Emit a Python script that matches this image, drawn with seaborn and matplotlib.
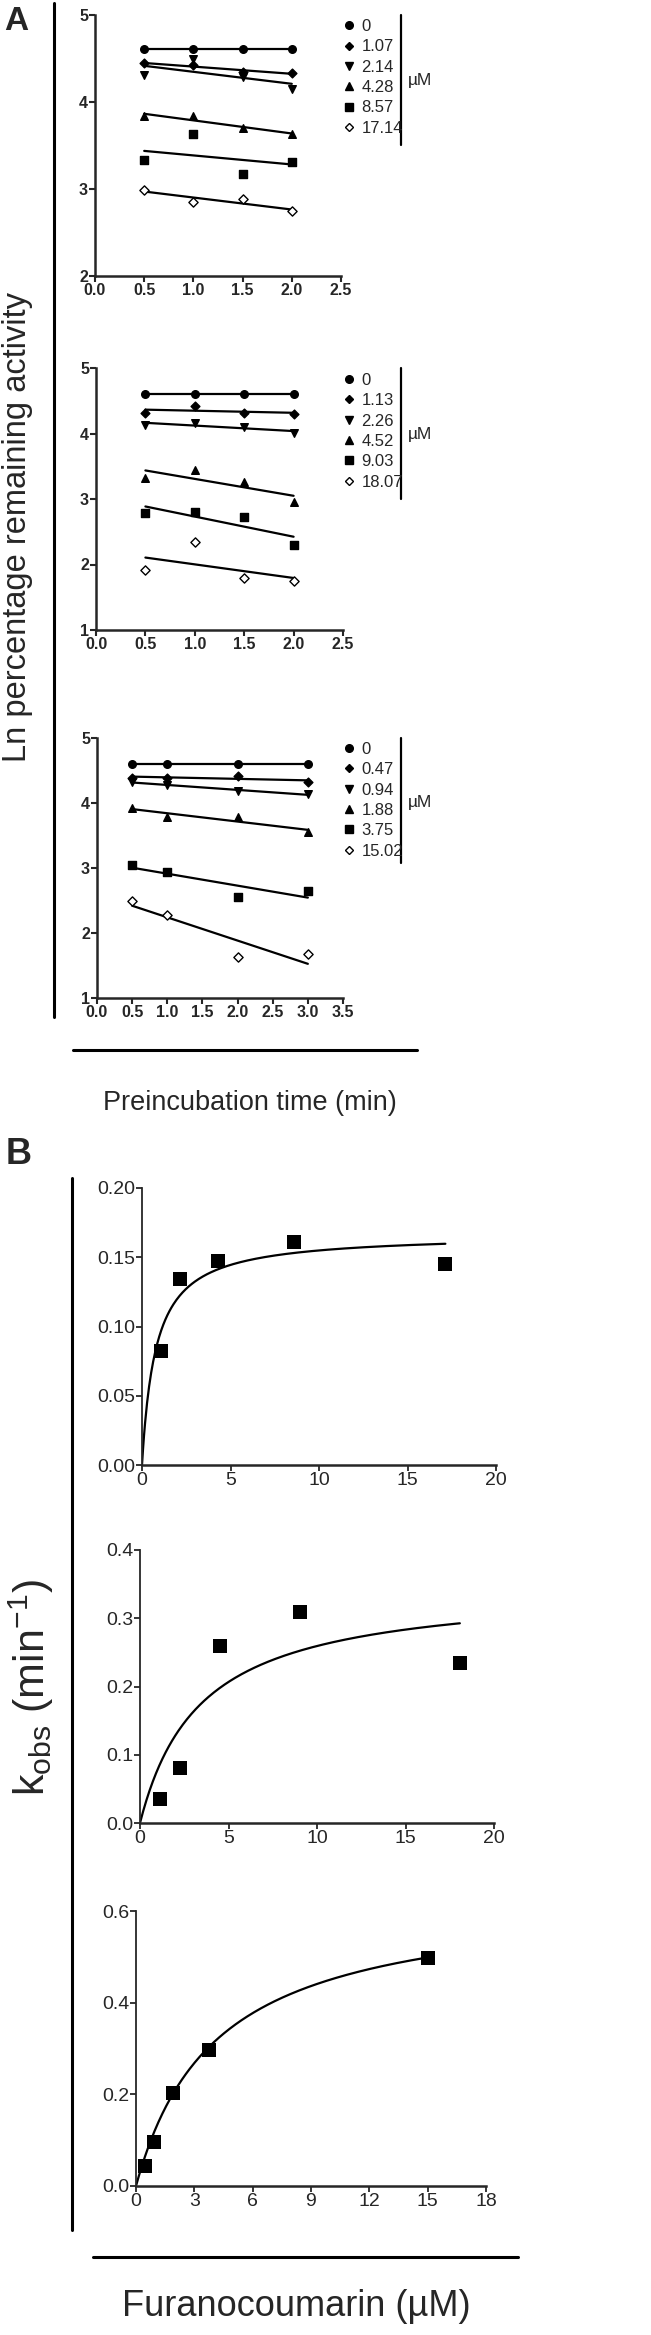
import numpy as np
import pandas as pd
import matplotlib
matplotlib.use('Agg')
import matplotlib.pyplot as plt
from matplotlib.lines import Line2D
import seaborn as sns

# ---- panel A: ln % remaining activity vs preincubation time ----
a1_time = [0.5, 1.0, 1.5, 2.0]
a1_conc = ['0', '1.07', '2.14', '4.28', '8.57', '17.14']
a1_lnact = [
    [4.605, 4.605, 4.605, 4.605],
    [4.445, 4.42, 4.35, 4.33],
    [4.31, 4.50, 4.29, 4.15],
    [3.835, 3.84, 3.70, 3.63],
    [3.33, 3.63, 3.17, 3.31],
    [2.99, 2.85, 2.88, 2.75],
]

a2_time = [0.5, 1.0, 1.5, 2.0]
a2_conc = ['0', '1.13', '2.26', '4.52', '9.03', '18.07']
a2_lnact = [
    [4.605, 4.605, 4.605, 4.605],
    [4.32, 4.42, 4.32, 4.30],
    [4.13, 4.16, 4.10, 4.01],
    [3.32, 3.44, 3.26, 2.95],
    [2.79, 2.80, 2.73, 2.30],
    [1.91, 2.35, 1.79, 1.75],
]

a3_time = [0.5, 1.0, 2.0, 3.0]
a3_conc = ['0', '0.47', '0.94', '1.88', '3.75', '15.02']
a3_lnact = [
    [4.605, 4.605, 4.605, 4.605],
    [4.39, 4.39, 4.42, 4.32],
    [4.33, 4.27, 4.18, 4.14],
    [3.93, 3.78, 3.78, 3.56],
    [3.05, 2.94, 2.56, 2.64],
    [2.49, 2.28, 1.63, 1.67],
]

# ---- panel B: kobs vs inhibitor concentration ----
b1_conc = [1.07, 2.14, 4.28, 8.57, 17.14]
b1_kobs = [0.082, 0.1345, 0.147, 0.161, 0.145]
b1_kinact, b1_ki = 0.167, 0.78

b2_conc = [1.13, 2.26, 4.52, 9.03, 18.07]
b2_kobs = [0.035, 0.080, 0.259, 0.309, 0.234]
b2_kinact, b2_ki = 0.348, 3.42

b3_conc = [0.47, 0.94, 1.88, 3.75, 15.02]
b3_kobs = [0.044, 0.095, 0.204, 0.297, 0.498]
b3_kinact, b3_ki = 0.635, 4.1

sns.set_style('ticks')
font = ['Liberation Sans', 'DejaVu Sans']
plt.rcParams['font.family'] = font
plt.rcParams['mathtext.default'] = 'regular'

W, H = 651, 2335
fig = plt.figure(figsize=(W / 100, H / 100), dpi=100)


def add_ax(l, r, t, b):
    return fig.add_axes([l / W, 1 - b / H, (r - l) / W, (b - t) / H])


def fig_line(x0, y0, x1, y1, lw=2.2):
    fig.add_artist(Line2D([x0 / W, x1 / W], [1 - y0 / H, 1 - y1 / H],
                          color='black', lw=lw, transform=fig.transFigure))


markers = ['o', 'D', 'v', '^', 's', 'D']
msizes = [30, 20, 30, 30, 30, 22]


def style_ticks(ax, size, weight):
    for lab in ax.get_xticklabels() + ax.get_yticklabels():
        lab.set_fontsize(size)
        lab.set_fontweight(weight)


def panel_a(ax, times, concs, vals, xmax, ymin, leg_y, bar_top, bar_bot, um_y):
    for i, (c, y) in enumerate(zip(concs, vals)):
        slope, icpt = np.polyfit(times, y, 1)
        xs = np.array([times[0], times[-1]])
        sns.lineplot(x=xs, y=slope * xs + icpt, ax=ax, color='black', lw=1.6)
        face = 'white' if i == 5 else 'black'
        sns.scatterplot(x=times, y=y, ax=ax, marker=markers[i], s=msizes[i],
                        color=face, edgecolor='black', linewidth=1.0, zorder=3)
    ax.set_xlim(0, xmax)
    ax.set_ylim(ymin, 5)
    ax.set_xticks(np.arange(0, xmax + 0.01, 0.5))
    ax.set_yticks(np.arange(ymin, 5.01, 1))
    ax.xaxis.set_major_formatter(matplotlib.ticker.FormatStrFormatter('%.1f'))
    ax.yaxis.set_major_formatter(matplotlib.ticker.FormatStrFormatter('%d'))
    sns.despine(ax=ax)
    for sp in ['left', 'bottom']:
        ax.spines[sp].set_linewidth(1.8)
    ax.tick_params(length=4, width=1.5, pad=1)
    ax.set_xlabel('')
    ax.set_ylabel('')
    style_ticks(ax, 11.5, 'bold')

    handles = []
    for i in range(6):
        face = 'white' if i == 5 else 'black'
        ms = 5.5 if markers[i] != 'D' else 4.5
        handles.append(Line2D([], [], ls='none', marker=markers[i], ms=ms,
                              mfc=face, mec='black', mew=1.0))
    fig.legend(handles, concs, loc='upper left',
               bbox_to_anchor=(344 / W, 1 - leg_y / H), frameon=False,
               handlelength=0.6, handletextpad=0.45, labelspacing=0.32,
               borderpad=0, borderaxespad=0,
               prop={'size': 12})
    fig_line(401, bar_top, 401, bar_bot, lw=1.6)
    fig.text(408 / W, 1 - um_y / H, 'µM', fontsize=12.5,
             va='center', ha='left')


def panel_b(ax, conc, kobs, kinact, ki, xmax, xstep, ymax, ystep, fmt):
    xs = np.linspace(0, conc[-1], 300)
    sns.lineplot(x=xs, y=kinact * xs / (ki + xs), ax=ax, color='black', lw=1.6)
    sns.scatterplot(x=conc, y=kobs, ax=ax, marker='s', s=95, color='black',
                    edgecolor='black', linewidth=0, zorder=3, clip_on=False)
    ax.set_xlim(0, xmax)
    ax.set_ylim(0, ymax)
    ax.set_xticks(np.arange(0, xmax + 0.01, xstep))
    ax.set_yticks(np.arange(0, ymax + ystep / 10, ystep))
    ax.yaxis.set_major_formatter(matplotlib.ticker.FormatStrFormatter(fmt))
    ax.xaxis.set_major_formatter(matplotlib.ticker.FormatStrFormatter('%d'))
    sns.despine(ax=ax)
    ax.spines['left'].set_linewidth(1.3)
    ax.spines['bottom'].set_linewidth(1.8)
    ax.tick_params(length=4, width=1.3, pad=1)
    ax.set_xlabel('')
    ax.set_ylabel('')
    style_ticks(ax, 14, 'normal')


ax1 = add_ax(95, 341, 15, 276)
panel_a(ax1, a1_time, a1_conc, a1_lnact, 2.5, 2, 19, 15, 145, 80)
ax2 = add_ax(96, 343, 368, 630)
panel_a(ax2, a2_time, a2_conc, a2_lnact, 2.5, 1, 373, 368, 499, 435)
ax3 = add_ax(97, 343, 738, 998)
panel_a(ax3, a3_time, a3_conc, a3_lnact, 3.5, 1, 742, 738, 863, 803)

bx1 = add_ax(142, 496, 1188, 1465)
panel_b(bx1, b1_conc, b1_kobs, b1_kinact, b1_ki, 20, 5, 0.20, 0.05, '%.2f')
bx2 = add_ax(140, 494, 1550, 1823)
panel_b(bx2, b2_conc, b2_kobs, b2_kinact, b2_ki, 20, 5, 0.4, 0.1, '%.1f')
bx3 = add_ax(136, 486, 1911, 2186)
panel_b(bx3, b3_conc, b3_kobs, b3_kinact, b3_ki, 18, 3, 0.6, 0.2, '%.1f')

# frame lines and shared labels
fig_line(54, 3, 54, 1017)
fig_line(73, 1050, 417, 1050)
fig_line(72, 1178, 72, 2230)
fig_line(93, 2257, 518, 2257)

fig.text(4 / W, 1 - 22 / H, 'A', fontsize=24, fontweight='bold', va='center', ha='left')
fig.text(6 / W, 1 - 1154 / H, 'B', fontsize=26, fontweight='bold', va='center', ha='left')
fig.text(18 / W, 1 - 527 / H, 'Ln percentage remaining activity', rotation=90,
         fontsize=23.5, va='center', ha='center')
fig.text(250 / W, 1 - 1103 / H, 'Preincubation time (min)',
         fontsize=19.5, va='center', ha='center')
fig.text(31 / W, 1 - 1688 / H, r'k$_{obs}$ (min$^{-1}$)', rotation=90,
         fontsize=31, va='center', ha='center')
fig.text(296 / W, 1 - 2306 / H, 'Furanocoumarin (µM)',
         fontsize=26, va='center', ha='center')

fig.savefig('out.png', dpi=100)
